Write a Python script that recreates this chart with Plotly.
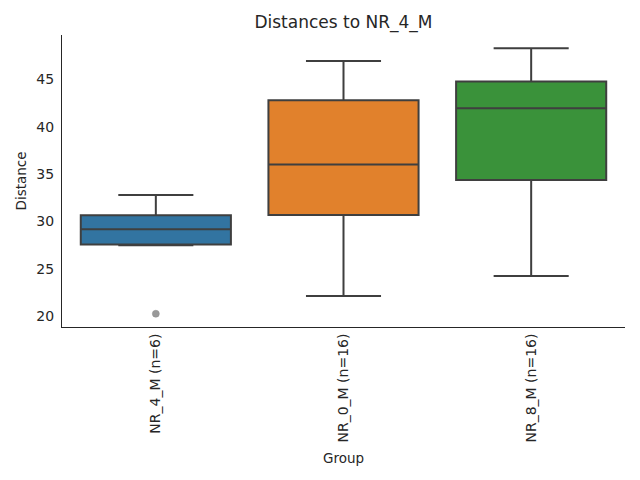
import plotly.graph_objects as go

# box statistics
groups = ["NR_4_M (n=6)", "NR_0_M (n=16)", "NR_8_M (n=16)"]
lower = [27.47, 22.11, 24.23]
q1 = [27.57, 30.67, 34.37]
median = [29.16, 36.02, 41.94]
q3 = [30.64, 42.78, 44.76]
upper = [32.78, 46.94, 48.28]
colors = ["#3274a1", "#e1812c", "#3a923a"]

# outliers
out_group = ["NR_4_M (n=6)"]
out_value = [20.25]

font = "DejaVu Sans"
fig = go.Figure()

for i, g in enumerate(groups):
    fig.add_trace(go.Box(
        x=[g], q1=[q1[i]], median=[median[i]], q3=[q3[i]],
        lowerfence=[lower[i]], upperfence=[upper[i]],
        fillcolor=colors[i],
        line=dict(color="#3f3f3f", width=2),
        width=0.8, whiskerwidth=0.5,
        boxpoints=False, showlegend=False, hoverinfo="y",
    ))

fig.add_trace(go.Scatter(
    x=out_group, y=out_value, mode="markers",
    marker=dict(color="#999999", size=7, line=dict(color="#8a8a8a", width=0.5)),
    showlegend=False,
))

# page body adds 8px offset, margins compensate
fig.update_layout(
    width=640, height=480,
    margin=dict(l=54, r=23, t=27, b=161),
    plot_bgcolor="white", paper_bgcolor="white",
    font=dict(family=font, size=14, color="#262626"),
    title=dict(text="Distances to NR_4_M", x=0.5, xref="paper", xanchor="center",
               y=0.97, yanchor="middle", font=dict(size=17, color="#262626")),
)
fig.update_xaxes(
    categoryorder="array", categoryarray=groups, range=[-0.5, 2.5],
    tickangle=-90, showline=True, linecolor="#262626", linewidth=1,
    showgrid=False, ticks="", automargin=False, tickfont=dict(size=14),
    title=dict(text="Group", standoff=11, font=dict(size=13.5)),
)
fig.update_yaxes(
    range=[18.85, 49.68], tickvals=[20, 25, 30, 35, 40, 45],
    showline=True, linecolor="#262626", linewidth=1,
    showgrid=False, zeroline=False, ticks="", automargin=False,
    tickfont=dict(size=14), ticklabelstandoff=4,
    title=dict(text="Distance", standoff=6, font=dict(size=13.5)),
)

fig.write_html("out.html")
